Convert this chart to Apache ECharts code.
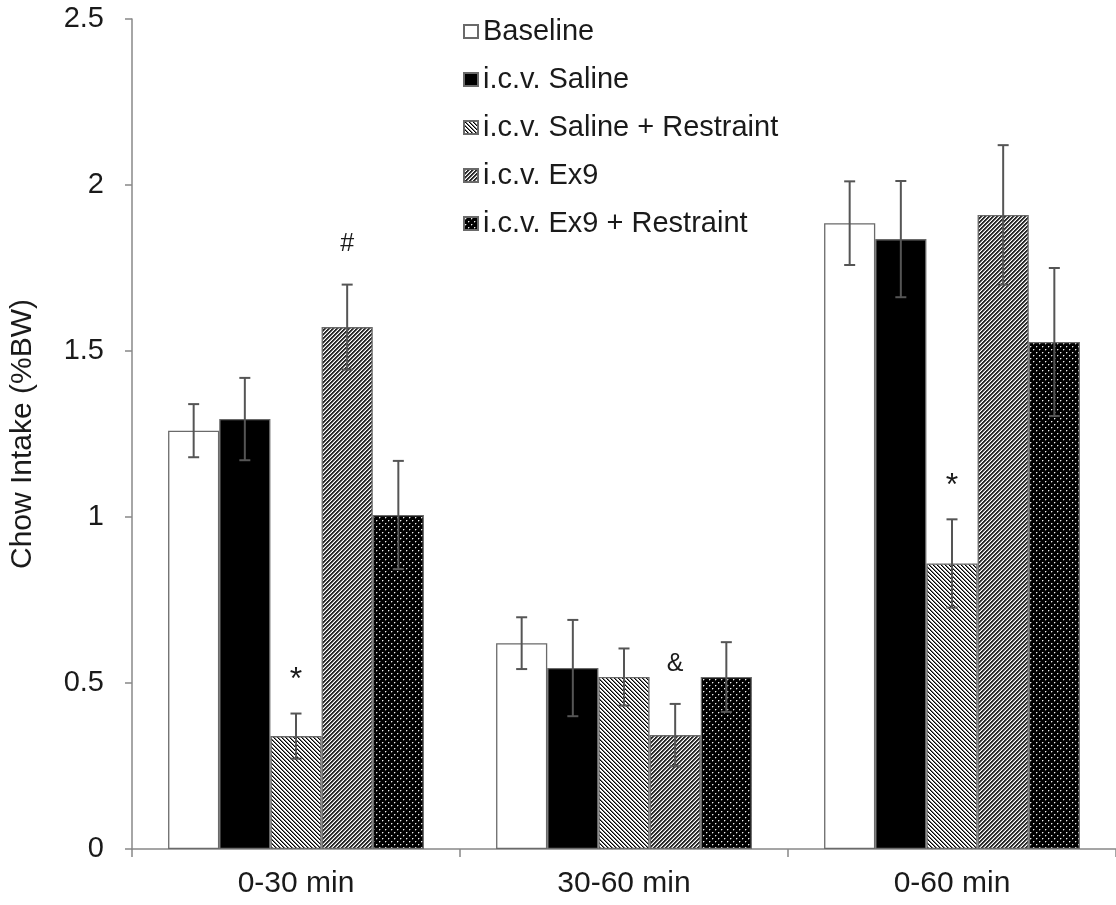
<!DOCTYPE html>
<html><head><meta charset="utf-8">
<script src="https://cdn.jsdelivr.net/npm/echarts@6/dist/echarts.min.js"></script>
<style>html,body{margin:0;padding:0;background:#fff}#c{width:1116px;height:905px}</style>
</head><body><div id="c"></div>
<script>
const categories = ['0-30 min', '30-60 min', '0-60 min'];
const seriesNames = ['Baseline', 'i.c.v. Saline', 'i.c.v. Saline + Restraint', 'i.c.v. Ex9', 'i.c.v. Ex9 + Restraint'];
const baseline = [1.26, 0.62, 1.885];
const saline = [1.295, 0.545, 1.837];
const salineRestraint = [0.34, 0.518, 0.86];
const ex9 = [1.572, 0.343, 1.91];
const ex9Restraint = [1.006, 0.518, 1.527];
const baselineErr = [0.08, 0.078, 0.126];
const salineErr = [0.124, 0.145, 0.175];
const salineRestraintErr = [0.068, 0.086, 0.133];
const ex9Err = [0.128, 0.094, 0.21];
const ex9RestraintErr = [0.163, 0.105, 0.223];
const baselineMark = ['', '', ''];
const salineMark = ['', '', ''];
const salineRestraintMark = ['*', '', '*'];
const ex9Mark = ['#', '&', ''];
const ex9RestraintMark = ['', '', ''];
const yTicks = [0, 0.5, 1, 1.5, 2, 2.5];

const values = [baseline, saline, salineRestraint, ex9, ex9Restraint];
const errs = [baselineErr, salineErr, salineRestraintErr, ex9Err, ex9RestraintErr];
const marks = [baselineMark, salineMark, salineRestraintMark, ex9Mark, ex9RestraintMark];

function tile(size, fn) {
  const c = document.createElement('canvas');
  c.width = size; c.height = size;
  const ctx = c.getContext('2d');
  for (let x = 0; x < size; x++) for (let y = 0; y < size; y++) {
    ctx.fillStyle = fn(x, y); ctx.fillRect(x, y, 1, 1);
  }
  return c;
}
const backHatch = tile(8, (x, y) => { const d = ((x - y) % 4 + 4) % 4; return d === 0 ? '#000' : d === 1 ? '#777' : '#fff'; });
const fwdHatch = tile(8, (x, y) => { const d = (x + y) % 4; return d <= 1 ? '#2a2a2a' : d === 2 ? '#999' : '#fff'; });
const dots = tile(6, (x, y) => {
  if ((x === 1 && y === 1) || (x === 4 && y === 4)) return '#f0f0f0';
  if ((x === 2 && y === 1) || (x === 1 && y === 2) || (x === 5 && y === 4) || (x === 4 && y === 5)) return '#555';
  return '#000';
});

const fills = ['#ffffff', '#000000',
  { image: backHatch, repeat: 'repeat' },
  { image: fwdHatch, repeat: 'repeat' },
  { image: dots, repeat: 'repeat' }];

const GAP = 0.22, N = 5;
const series = [];
seriesNames.forEach((name, i) => {
  series.push({
    name, type: 'bar', data: values[i], barGap: '0%', barCategoryGap: (GAP * 100) + '%',
    itemStyle: { color: fills[i], borderColor: '#6a6a6a', borderWidth: 1.3 },
    emphasis: { disabled: true }, animation: false
  });
});
seriesNames.forEach((name, i) => {
  series.push({
    type: 'custom', z: 10, animation: false, silent: true,
    data: values[i].map((v, k) => [k, v, errs[i][k]]),
    renderItem: function (params, api) {
      const cat = api.value(0), v = api.value(1), e = api.value(2);
      const band = api.size([1, 0])[0];
      const bw = band * (1 - GAP) / N;
      const cx = api.coord([cat, 0])[0] - band * (1 - GAP) / 2 + bw * (i + 0.5);
      const yt = api.coord([cat, v + e])[1], yb = api.coord([cat, v - e])[1];
      const st = { stroke: '#555', lineWidth: 2 };
      const ch = [
        { type: 'line', shape: { x1: cx, y1: yt, x2: cx, y2: yb }, style: st },
        { type: 'line', shape: { x1: cx - 5.5, y1: yt, x2: cx + 5.5, y2: yt }, style: st },
        { type: 'line', shape: { x1: cx - 5.5, y1: yb, x2: cx + 5.5, y2: yb }, style: st }
      ];
      const m = marks[i][params.dataIndex];
      if (m) {
        const star = m === '*';
        ch.push({ type: 'text', style: { text: m, x: cx, y: yt - (star ? 33 : 40), align: 'center', verticalAlign: 'middle', fontSize: star ? 32 : 25, fontFamily: 'Liberation Sans', fill: '#1a1a1a' } });
      }
      return { type: 'group', children: ch };
    }
  });
});

const chart = echarts.init(document.getElementById('c'), null, { renderer: 'canvas' });
chart.setOption({
  animation: false,
  textStyle: { fontFamily: 'Liberation Sans', color: '#1a1a1a' },
  grid: { left: 132, top: 19, bottom: 56, width: 993, containLabel: false },
  legend: {
    data: seriesNames, orient: 'vertical', left: 458, top: 12,
    itemWidth: 14, itemHeight: 13, itemGap: 19, icon: 'rect',
    textStyle: { fontSize: 29, color: '#1a1a1a', fontFamily: 'Liberation Sans' },
    selectedMode: false
  },
  xAxis: {
    type: 'category', data: categories,
    axisLine: { lineStyle: { color: '#888', width: 1.5 } },
    axisTick: { show: true, length: 8, lineStyle: { color: '#888', width: 1.5 } },
    axisLabel: { fontSize: 30, color: '#1a1a1a', margin: 20 }
  },
  yAxis: {
    type: 'value', min: 0, max: 2.5, interval: 0.5,
    name: 'Chow Intake (%BW)', nameLocation: 'middle', nameGap: 94, nameRotate: 90,
    nameTextStyle: { fontSize: 30, color: '#1a1a1a' },
    axisLine: { show: true, lineStyle: { color: '#888', width: 1.5 } },
    axisTick: { show: true, length: 7, lineStyle: { color: '#888', width: 1.5 } },
    splitLine: { show: false },
    axisLabel: { fontSize: 29, color: '#1a1a1a', margin: 28, formatter: v => String(yTicks.find(t => Math.abs(t - v) < 1e-9) ?? v) }
  },
  series
});
</script></body></html>
